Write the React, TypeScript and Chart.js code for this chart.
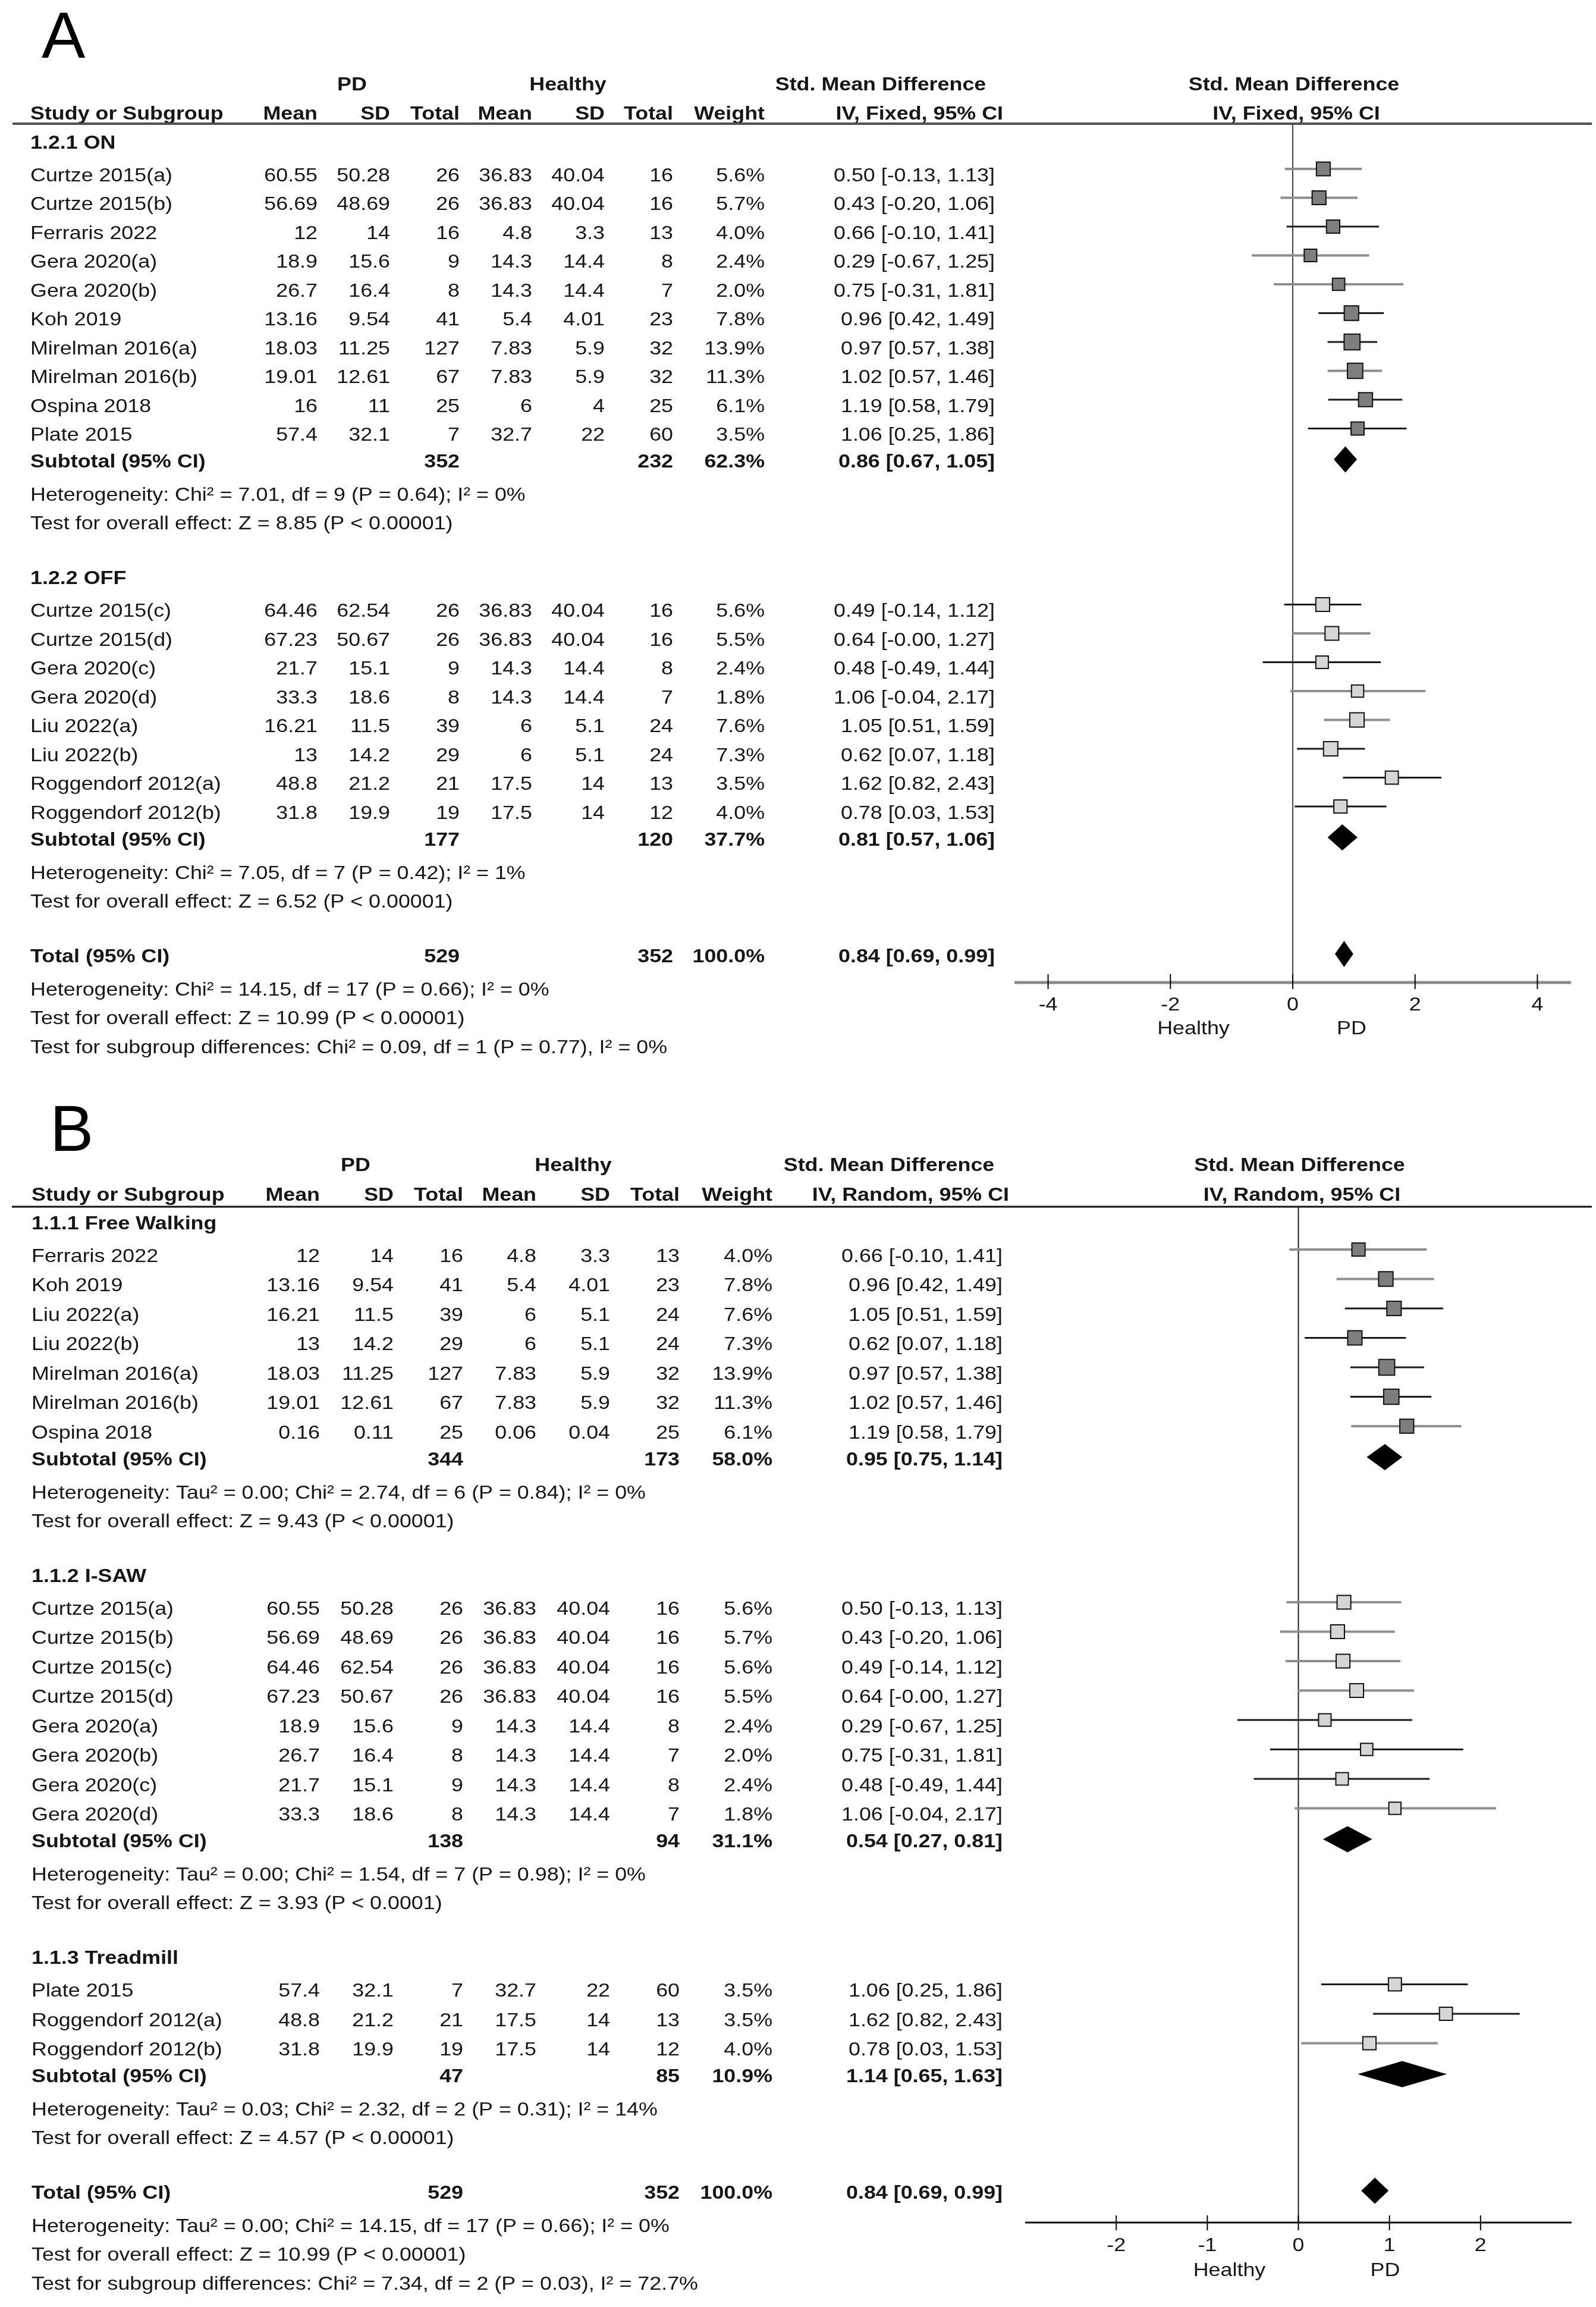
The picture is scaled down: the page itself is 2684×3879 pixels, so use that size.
import React, { useEffect, useRef } from 'react';
import { Chart, registerables } from 'chart.js';

Chart.register(...registerables);

// ---------------------------------------------------------------------------
// DATA
// Study row: [name, PD mean, PD SD, PD total, Healthy mean, Healthy SD, Healthy total, weight %, SMD, CI low, CI high]
// Summary row: [PD total, Healthy total, weight %, SMD, CI low, CI high]
// ---------------------------------------------------------------------------
type StudyRow = [string, number, number, number, number, number, number, number, number, number, number];
type SummaryRow = [number, number, number, number, number, number];

// ---- Panel A (IV, Fixed) ----
const A_ON_STUDIES: StudyRow[] = [
  ['Curtze 2015(a)', 60.55, 50.28, 26, 36.83, 40.04, 16, 5.6, 0.5, -0.13, 1.13],
  ['Curtze 2015(b)', 56.69, 48.69, 26, 36.83, 40.04, 16, 5.7, 0.43, -0.2, 1.06],
  ['Ferraris 2022', 12, 14, 16, 4.8, 3.3, 13, 4.0, 0.66, -0.1, 1.41],
  ['Gera 2020(a)', 18.9, 15.6, 9, 14.3, 14.4, 8, 2.4, 0.29, -0.67, 1.25],
  ['Gera 2020(b)', 26.7, 16.4, 8, 14.3, 14.4, 7, 2.0, 0.75, -0.31, 1.81],
  ['Koh 2019', 13.16, 9.54, 41, 5.4, 4.01, 23, 7.8, 0.96, 0.42, 1.49],
  ['Mirelman 2016(a)', 18.03, 11.25, 127, 7.83, 5.9, 32, 13.9, 0.97, 0.57, 1.38],
  ['Mirelman 2016(b)', 19.01, 12.61, 67, 7.83, 5.9, 32, 11.3, 1.02, 0.57, 1.46],
  ['Ospina 2018', 16, 11, 25, 6, 4, 25, 6.1, 1.19, 0.58, 1.79],
  ['Plate 2015', 57.4, 32.1, 7, 32.7, 22, 60, 3.5, 1.06, 0.25, 1.86],
];
const A_ON_SUMMARY: SummaryRow = [352, 232, 62.3, 0.86, 0.67, 1.05];
const A_ON_HET = 'Heterogeneity: Chi² = 7.01, df = 9 (P = 0.64); I² = 0%';
const A_ON_TEST = 'Test for overall effect: Z = 8.85 (P < 0.00001)';

const A_OFF_STUDIES: StudyRow[] = [
  ['Curtze 2015(c)', 64.46, 62.54, 26, 36.83, 40.04, 16, 5.6, 0.49, -0.14, 1.12],
  ['Curtze 2015(d)', 67.23, 50.67, 26, 36.83, 40.04, 16, 5.5, 0.64, -0.004, 1.27],
  ['Gera 2020(c)', 21.7, 15.1, 9, 14.3, 14.4, 8, 2.4, 0.48, -0.49, 1.44],
  ['Gera 2020(d)', 33.3, 18.6, 8, 14.3, 14.4, 7, 1.8, 1.06, -0.04, 2.17],
  ['Liu 2022(a)', 16.21, 11.5, 39, 6, 5.1, 24, 7.6, 1.05, 0.51, 1.59],
  ['Liu 2022(b)', 13, 14.2, 29, 6, 5.1, 24, 7.3, 0.62, 0.07, 1.18],
  ['Roggendorf 2012(a)', 48.8, 21.2, 21, 17.5, 14, 13, 3.5, 1.62, 0.82, 2.43],
  ['Roggendorf 2012(b)', 31.8, 19.9, 19, 17.5, 14, 12, 4.0, 0.78, 0.03, 1.53],
];
const A_OFF_SUMMARY: SummaryRow = [177, 120, 37.7, 0.81, 0.57, 1.06];
const A_OFF_HET = 'Heterogeneity: Chi² = 7.05, df = 7 (P = 0.42); I² = 1%';
const A_OFF_TEST = 'Test for overall effect: Z = 6.52 (P < 0.00001)';

const A_TOTAL: SummaryRow = [529, 352, 100.0, 0.84, 0.69, 0.99];
const A_TOTAL_NOTES = [
  'Heterogeneity: Chi² = 14.15, df = 17 (P = 0.66); I² = 0%',
  'Test for overall effect: Z = 10.99 (P < 0.00001)',
  'Test for subgroup differences: Chi² = 0.09, df = 1 (P = 0.77), I² = 0%',
];
const A_TICKS = [-4, -2, 0, 2, 4];

// ---- Panel B (IV, Random) ----
const B_FREE_STUDIES: StudyRow[] = [
  ['Ferraris 2022', 12, 14, 16, 4.8, 3.3, 13, 4.0, 0.66, -0.1, 1.41],
  ['Koh 2019', 13.16, 9.54, 41, 5.4, 4.01, 23, 7.8, 0.96, 0.42, 1.49],
  ['Liu 2022(a)', 16.21, 11.5, 39, 6, 5.1, 24, 7.6, 1.05, 0.51, 1.59],
  ['Liu 2022(b)', 13, 14.2, 29, 6, 5.1, 24, 7.3, 0.62, 0.07, 1.18],
  ['Mirelman 2016(a)', 18.03, 11.25, 127, 7.83, 5.9, 32, 13.9, 0.97, 0.57, 1.38],
  ['Mirelman 2016(b)', 19.01, 12.61, 67, 7.83, 5.9, 32, 11.3, 1.02, 0.57, 1.46],
  ['Ospina 2018', 0.16, 0.11, 25, 0.06, 0.04, 25, 6.1, 1.19, 0.58, 1.79],
];
const B_FREE_SUMMARY: SummaryRow = [344, 173, 58.0, 0.95, 0.75, 1.14];
const B_FREE_HET = 'Heterogeneity: Tau² = 0.00; Chi² = 2.74, df = 6 (P = 0.84); I² = 0%';
const B_FREE_TEST = 'Test for overall effect: Z = 9.43 (P < 0.00001)';

const B_ISAW_STUDIES: StudyRow[] = [
  ['Curtze 2015(a)', 60.55, 50.28, 26, 36.83, 40.04, 16, 5.6, 0.5, -0.13, 1.13],
  ['Curtze 2015(b)', 56.69, 48.69, 26, 36.83, 40.04, 16, 5.7, 0.43, -0.2, 1.06],
  ['Curtze 2015(c)', 64.46, 62.54, 26, 36.83, 40.04, 16, 5.6, 0.49, -0.14, 1.12],
  ['Curtze 2015(d)', 67.23, 50.67, 26, 36.83, 40.04, 16, 5.5, 0.64, -0.004, 1.27],
  ['Gera 2020(a)', 18.9, 15.6, 9, 14.3, 14.4, 8, 2.4, 0.29, -0.67, 1.25],
  ['Gera 2020(b)', 26.7, 16.4, 8, 14.3, 14.4, 7, 2.0, 0.75, -0.31, 1.81],
  ['Gera 2020(c)', 21.7, 15.1, 9, 14.3, 14.4, 8, 2.4, 0.48, -0.49, 1.44],
  ['Gera 2020(d)', 33.3, 18.6, 8, 14.3, 14.4, 7, 1.8, 1.06, -0.04, 2.17],
];
const B_ISAW_SUMMARY: SummaryRow = [138, 94, 31.1, 0.54, 0.27, 0.81];
const B_ISAW_HET = 'Heterogeneity: Tau² = 0.00; Chi² = 1.54, df = 7 (P = 0.98); I² = 0%';
const B_ISAW_TEST = 'Test for overall effect: Z = 3.93 (P < 0.0001)';

const B_TREAD_STUDIES: StudyRow[] = [
  ['Plate 2015', 57.4, 32.1, 7, 32.7, 22, 60, 3.5, 1.06, 0.25, 1.86],
  ['Roggendorf 2012(a)', 48.8, 21.2, 21, 17.5, 14, 13, 3.5, 1.62, 0.82, 2.43],
  ['Roggendorf 2012(b)', 31.8, 19.9, 19, 17.5, 14, 12, 4.0, 0.78, 0.03, 1.53],
];
const B_TREAD_SUMMARY: SummaryRow = [47, 85, 10.9, 1.14, 0.65, 1.63];
const B_TREAD_HET = 'Heterogeneity: Tau² = 0.03; Chi² = 2.32, df = 2 (P = 0.31); I² = 14%';
const B_TREAD_TEST = 'Test for overall effect: Z = 4.57 (P < 0.00001)';

const B_TOTAL: SummaryRow = [529, 352, 100.0, 0.84, 0.69, 0.99];
const B_TOTAL_NOTES = [
  'Heterogeneity: Tau² = 0.00; Chi² = 14.15, df = 17 (P = 0.66); I² = 0%',
  'Test for overall effect: Z = 10.99 (P < 0.00001)',
  'Test for subgroup differences: Chi² = 7.34, df = 2 (P = 0.03), I² = 72.7%',
];
const B_TICKS = [-2, -1, 0, 1, 2];

// ---------------------------------------------------------------------------
// PANEL DEFINITIONS
// ---------------------------------------------------------------------------
interface Group { title: string; studies: StudyRow[]; summary: SummaryRow; het: string; test: string }
interface Panel { letter: string; method: string; groups: Group[]; total: SummaryRow; totalNotes: string[]; ticks: number[] }

const PANEL_A: Panel = {
  letter: 'A',
  method: 'IV, Fixed, 95% CI',
  groups: [
    { title: '1.2.1 ON', studies: A_ON_STUDIES, summary: A_ON_SUMMARY, het: A_ON_HET, test: A_ON_TEST },
    { title: '1.2.2 OFF', studies: A_OFF_STUDIES, summary: A_OFF_SUMMARY, het: A_OFF_HET, test: A_OFF_TEST },
  ],
  total: A_TOTAL,
  totalNotes: A_TOTAL_NOTES,
  ticks: A_TICKS,
};

const PANEL_B: Panel = {
  letter: 'B',
  method: 'IV, Random, 95% CI',
  groups: [
    { title: '1.1.1 Free Walking', studies: B_FREE_STUDIES, summary: B_FREE_SUMMARY, het: B_FREE_HET, test: B_FREE_TEST },
    { title: '1.1.2 I-SAW', studies: B_ISAW_STUDIES, summary: B_ISAW_SUMMARY, het: B_ISAW_HET, test: B_ISAW_TEST },
    { title: '1.1.3 Treadmill', studies: B_TREAD_STUDIES, summary: B_TREAD_SUMMARY, het: B_TREAD_HET, test: B_TREAD_TEST },
  ],
  total: B_TOTAL,
  totalNotes: B_TOTAL_NOTES,
  ticks: B_TICKS,
};

// ---------------------------------------------------------------------------
// STYLES / LAYOUT (kept apart from the data)
// ---------------------------------------------------------------------------
const FONT_FAMILY = '"Liberation Sans", Arial, Helvetica, sans-serif';
const TEXT_COLOR = '#161616';
const FONT_SIZE = 32;
const STRETCH_X = 1.12;
const FILL_DARK = '#7e7e7e';
const FILL_LIGHT = '#d6d6d6';
const LINE_GREY = '#8e8e8e';
const LINE_BLACK = '#1a1a1a';

const GAP = { headToFirst: 55, subAfter: 45, hetAfter: 56, testAfter: 48, nextHeading: 92, totHet: 56, totTest: 48, subDiff: 49 };

const STYLE_A = {
  fills: [FILL_DARK, FILL_LIGHT],
  tones: [
    ['g', 'g', 'k', 'g', 'g', 'k', 'k', 'g', 'k', 'k'],
    ['k', 'g', 'k', 'g', 'g', 'k', 'k', 'k'],
  ],
};
const STYLE_B = {
  fills: [FILL_DARK, FILL_LIGHT, FILL_LIGHT],
  tones: [
    ['g', 'g', 'k', 'k', 'k', 'k', 'g'],
    ['g', 'g', 'g', 'g', 'k', 'k', 'k', 'g'],
    ['k', 'k', 'g'],
  ],
};

const LAYOUT_A = {
  top: 0, height: 1800, letterX: 70, letterBase: 97,
  head1Y: 143, head2Y: 192, ruleY: 208, ruleX0: 21, ruleX1: 2677, ruleColor: '#505050', ruleW: 4,
  firstY: 241, rowH: 48.5,
  textX: 51, cols: [534, 656, 773, 895, 1017, 1132, 1286], ciRight: 1673, ciHeadRight: 1687,
  pdX: 592, healthyX: 955, smdX: 1481,
  plotLeft: 1706, plotRight: 2642, xMin: -4.55, xMax: 4.55,
  axisGap: 43, axisColor: '#8a8a8a', axisW: 5, tickUp: 14, tickDown: 11,
  tickLabelGap: 38, sideGap: 78, healthyOff: -167, pdOff: 99, zeroColor: '#444444',
};
const LAYOUT_B = {
  top: 1800, height: 2079, letterX: 84, letterBase: 135,
  head1Y: 160, head2Y: 210, ruleY: 229, ruleX0: 20, ruleX1: 2677, ruleColor: '#111111', ruleW: 3,
  firstY: 258, rowH: 49.5,
  textX: 53, cols: [538, 662, 779, 902, 1026, 1143, 1299], ciRight: 1686, ciHeadRight: 1697,
  pdX: 598, healthyX: 964, smdX: 1495,
  plotLeft: 1724, plotRight: 2643, xMin: -3, xMax: 3,
  axisGap: 48.5, axisColor: '#111111', axisW: 3, tickUp: 12, tickDown: 13,
  tickLabelGap: 39, sideGap: 81, healthyOff: -116, pdOff: 146, zeroColor: '#222222',
};
type Layout = typeof LAYOUT_A;
type Style = typeof STYLE_A;

const MARK_OFFSET = 12; // squares sit slightly above text centre
const DIAMOND_OFFSET = 5;
const DIAMOND_HALF_H = 22;

// ---------------------------------------------------------------------------
interface Row { kind: string; y: number; text?: string; s?: StudyRow; sum?: SummaryRow; gi?: number; si?: number }

function buildRows(panel: Panel, L: Layout) {
  const rows: Row[] = [];
  let y = L.firstY;
  panel.groups.forEach((g, gi) => {
    rows.push({ kind: 'heading', y, text: g.title });
    y += GAP.headToFirst;
    g.studies.forEach((s, si) => {
      rows.push({ kind: 'study', y, s, gi, si });
      y += L.rowH;
    });
    y -= L.rowH;
    y += GAP.subAfter;
    rows.push({ kind: 'summary', y, text: 'Subtotal (95% CI)', sum: g.summary });
    y += GAP.hetAfter;
    rows.push({ kind: 'note', y, text: g.het });
    y += GAP.testAfter;
    rows.push({ kind: 'note', y, text: g.test });
    y += GAP.nextHeading;
  });
  const totalY = y;
  rows.push({ kind: 'summary', y, text: 'Total (95% CI)', sum: panel.total });
  y += GAP.totHet;
  rows.push({ kind: 'note', y, text: panel.totalNotes[0] });
  y += GAP.totTest;
  rows.push({ kind: 'note', y, text: panel.totalNotes[1] });
  y += GAP.subDiff;
  rows.push({ kind: 'note', y, text: panel.totalNotes[2] });
  return { rows, totalY };
}

function drawText(ctx: CanvasRenderingContext2D, s: string, x: number, y: number, align: CanvasTextAlign, bold: boolean) {
  ctx.save();
  ctx.font = `${bold ? 'bold ' : ''}${FONT_SIZE}px ${FONT_FAMILY}`;
  ctx.fillStyle = TEXT_COLOR;
  ctx.textAlign = align;
  ctx.textBaseline = 'middle';
  ctx.translate(x, y);
  ctx.scale(STRETCH_X, 1);
  ctx.fillText(s, 0, 0);
  ctx.restore();
}

const ciText = (m: number, lo: number, hi: number) => `${m.toFixed(2)} [${lo.toFixed(2)}, ${hi.toFixed(2)}]`;
const squareSide = (w: number) => 17 + 2.6 * Math.sqrt(w);

function ForestPanel({ panel, layout, style }: { panel: Panel; layout: Layout; style: Style }) {
  const ref = useRef<HTMLCanvasElement | null>(null);

  useEffect(() => {
    const canvas = ref.current;
    if (!canvas) return;
    const L = layout;
    const { rows, totalY } = buildRows(panel, L);
    const axisY = totalY + L.axisGap;

    const datasets: any[] = [];
    // CI whiskers
    rows.filter((r) => r.kind === 'study').forEach((r) => {
      const s = r.s as StudyRow;
      const tone = style.tones[r.gi as number][r.si as number];
      datasets.push({
        label: s[0] + ' CI',
        data: [{ x: s[9], y: r.y - MARK_OFFSET }, { x: s[10], y: r.y - MARK_OFFSET }],
        showLine: true,
        borderColor: tone === 'g' ? LINE_GREY : LINE_BLACK,
        borderWidth: tone === 'g' ? 4 : 3,
        pointRadius: 0,
        order: 2,
        clip: false,
      });
    });
    // weight squares per subgroup
    panel.groups.forEach((g, gi) => {
      const studyRows = rows.filter((r) => r.kind === 'study' && r.gi === gi);
      datasets.push({
        label: g.title,
        data: studyRows.map((r) => ({ x: (r.s as StudyRow)[8], y: r.y - MARK_OFFSET })),
        pointStyle: 'rect',
        pointRadius: studyRows.map((r) => squareSide((r.s as StudyRow)[7]) / Math.SQRT2),
        backgroundColor: style.fills[gi],
        borderColor: '#111111',
        borderWidth: 2,
        order: 1,
        clip: false,
      });
    });

    const plugin = {
      id: 'forestDecor',
      beforeDatasetsDraw(chart: any) {
        const ctx: CanvasRenderingContext2D = chart.ctx;
        const x = chart.scales.x;
        const y = chart.scales.y;
        const zx = x.getPixelForValue(0);
        ctx.save();
        ctx.strokeStyle = L.zeroColor;
        ctx.lineWidth = 2;
        ctx.beginPath();
        ctx.moveTo(zx, y.getPixelForValue(L.ruleY));
        ctx.lineTo(zx, y.getPixelForValue(axisY));
        ctx.stroke();
        ctx.restore();
      },
      afterDatasetsDraw(chart: any) {
        const ctx: CanvasRenderingContext2D = chart.ctx;
        const xs = chart.scales.x;
        const ys = chart.scales.y;
        const py = (v: number) => ys.getPixelForValue(v);
        const zx = xs.getPixelForValue(0);

        // panel letter
        ctx.save();
        ctx.font = `110px ${FONT_FAMILY}`;
        ctx.fillStyle = '#000';
        ctx.textAlign = 'left';
        ctx.textBaseline = 'alphabetic';
        ctx.fillText(panel.letter, L.letterX, py(L.letterBase));
        ctx.restore();

        // headers
        drawText(ctx, 'PD', L.pdX, py(L.head1Y), 'center', true);
        drawText(ctx, 'Healthy', L.healthyX, py(L.head1Y), 'center', true);
        drawText(ctx, 'Std. Mean Difference', L.smdX, py(L.head1Y), 'center', true);
        drawText(ctx, 'Std. Mean Difference', zx + 2, py(L.head1Y), 'center', true);
        drawText(ctx, 'Study or Subgroup', L.textX, py(L.head2Y), 'left', true);
        ['Mean', 'SD', 'Total', 'Mean', 'SD', 'Total', 'Weight'].forEach((h, i) =>
          drawText(ctx, h, L.cols[i], py(L.head2Y), 'right', true),
        );
        drawText(ctx, panel.method, L.ciHeadRight, py(L.head2Y), 'right', true);
        drawText(ctx, panel.method, zx + 6, py(L.head2Y), 'center', true);

        // header rule
        ctx.save();
        ctx.fillStyle = L.ruleColor;
        ctx.fillRect(L.ruleX0, py(L.ruleY) - L.ruleW / 2, L.ruleX1 - L.ruleX0, L.ruleW);
        ctx.restore();

        // rows
        rows.forEach((r) => {
          const yy = py(r.y);
          if (r.kind === 'heading') {
            drawText(ctx, r.text as string, L.textX, yy, 'left', true);
          } else if (r.kind === 'note') {
            drawText(ctx, r.text as string, L.textX, yy, 'left', false);
          } else if (r.kind === 'study') {
            const s = r.s as StudyRow;
            drawText(ctx, s[0], L.textX, yy, 'left', false);
            for (let i = 0; i < 6; i++) drawText(ctx, String(s[i + 1]), L.cols[i], yy, 'right', false);
            drawText(ctx, s[7].toFixed(1) + '%', L.cols[6], yy, 'right', false);
            drawText(ctx, ciText(s[8], s[9], s[10]), L.ciRight, yy, 'right', false);
          } else if (r.kind === 'summary') {
            const m = r.sum as SummaryRow;
            drawText(ctx, r.text as string, L.textX, yy, 'left', true);
            drawText(ctx, String(m[0]), L.cols[2], yy, 'right', true);
            drawText(ctx, String(m[1]), L.cols[5], yy, 'right', true);
            drawText(ctx, m[2].toFixed(1) + '%', L.cols[6], yy, 'right', true);
            drawText(ctx, ciText(m[3], m[4], m[5]), L.ciRight, yy, 'right', true);
            // diamond
            const cy = yy - DIAMOND_OFFSET;
            ctx.save();
            ctx.fillStyle = '#000';
            ctx.beginPath();
            ctx.moveTo(xs.getPixelForValue(m[4]), cy);
            ctx.lineTo(xs.getPixelForValue(m[3]), cy - DIAMOND_HALF_H);
            ctx.lineTo(xs.getPixelForValue(m[5]), cy);
            ctx.lineTo(xs.getPixelForValue(m[3]), cy + DIAMOND_HALF_H);
            ctx.closePath();
            ctx.fill();
            ctx.restore();
          }
        });

        // x axis
        const ay = py(axisY);
        ctx.save();
        ctx.fillStyle = L.axisColor;
        ctx.fillRect(chart.chartArea.left, ay - L.axisW / 2, chart.chartArea.right - chart.chartArea.left, L.axisW);
        ctx.strokeStyle = '#000';
        ctx.lineWidth = 2;
        panel.ticks.forEach((t) => {
          const tx = xs.getPixelForValue(t);
          ctx.beginPath();
          ctx.moveTo(tx, ay - L.tickUp);
          ctx.lineTo(tx, ay + L.tickDown);
          ctx.stroke();
        });
        ctx.restore();
        panel.ticks.forEach((t) => drawText(ctx, String(t), xs.getPixelForValue(t), ay + L.tickLabelGap, 'center', false));
        drawText(ctx, 'Healthy', zx + L.healthyOff, ay + L.sideGap, 'center', false);
        drawText(ctx, 'PD', zx + L.pdOff, ay + L.sideGap, 'center', false);
      },
    };

    const chart = new Chart(canvas, {
      type: 'scatter',
      data: { datasets },
      options: {
        animation: false,
        responsive: false,
        devicePixelRatio: 1,
        events: [],
        layout: { autoPadding: false, padding: { left: L.plotLeft, right: 2684 - L.plotRight, top: 0, bottom: 0 } },
        scales: {
          x: { type: 'linear', min: L.xMin, max: L.xMax, display: false },
          y: { type: 'linear', min: 0, max: L.height, reverse: true, display: false },
        },
        plugins: { legend: { display: false }, tooltip: { enabled: false } },
      } as any,
      plugins: [plugin],
    });
    return () => chart.destroy();
  }, [panel, layout, style]);

  return (
    <canvas
      ref={ref}
      width={2684}
      height={layout.height}
      style={{ position: 'absolute', left: 0, top: layout.top, width: 2684, height: layout.height, display: 'block' }}
    />
  );
}

export default function App() {
  return (
    <div style={{ position: 'absolute', left: 0, top: 0, width: 2684, height: 3879, background: '#ffffff', overflow: 'hidden' }}>
      <ForestPanel panel={PANEL_A} layout={LAYOUT_A} style={STYLE_A} />
      <ForestPanel panel={PANEL_B} layout={LAYOUT_B} style={STYLE_B} />
    </div>
  );
}
